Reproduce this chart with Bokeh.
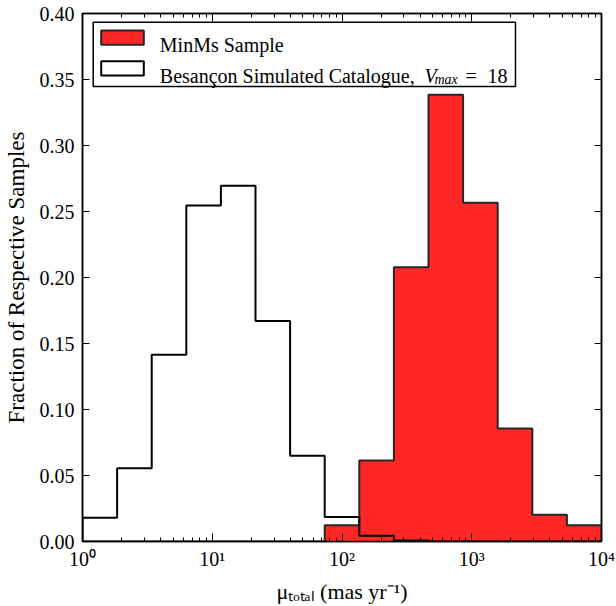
import numpy as np
from bokeh.plotting import figure
from bokeh.models import (LogAxis, LinearAxis, Label, BoxAnnotation, CustomJSTickFormatter,
                          FixedTicker, Range1d, NumeralTickFormatter)
from bokeh.embed import file_html
from bokeh.resources import INLINE

# ---- data ----
bin_edges = [1.0, 1.848, 3.415, 6.310, 11.659, 21.544, 39.811, 73.564, 135.936,
             251.189, 464.159, 857.696, 1584.893, 2928.645, 5411.695, 10000.0]
minms_frac = [0.0, 0.0, 0.0, 0.0, 0.0, 0.0, 0.0, 0.0123, 0.0613, 0.2078, 0.3385,
              0.2566, 0.0857, 0.0203, 0.0123]
besancon_frac = [0.0180, 0.0555, 0.1415, 0.2545, 0.2695, 0.1670, 0.0650, 0.0186,
                 0.0043, 0.0008, 0.0, 0.0, 0.0, 0.0, 0.0]
x_major_ticks = [1, 10, 100, 1000, 10000]
y_ticks = [0.0, 0.05, 0.10, 0.15, 0.20, 0.25, 0.30, 0.35, 0.40]

SERIF = "Liberation Serif"
RED = "#ff2626"
EDGE = "#262626"

p = figure(width=616, height=606, x_axis_type="log",
           x_range=Range1d(1, 1e4), y_range=Range1d(0, 0.4),
           output_backend="svg", toolbar_location=None,
           min_border_left=82, min_border_right=15, min_border_top=13, min_border_bottom=65,
           background_fill_color="white", border_fill_color="white")
p.xgrid.visible = False
p.ygrid.visible = False
p.outline_line_color = "black"
p.outline_line_width = 1.5

# ---- histograms ----
edges = np.array(bin_edges)
step_x = np.concatenate([[edges[0]], edges])
red_y = np.concatenate([[0], minms_frac, [0]])
blk_y = np.concatenate([[0], besancon_frac, [0]])
p.varea_step(x=step_x, y1=np.zeros(len(step_x)), y2=red_y, step_mode="after",
             fill_color=RED)
p.step(step_x, red_y, mode="after", line_color=EDGE, line_width=2)
p.step(step_x, blk_y, mode="after", line_color="black", line_width=2)

# ---- axes ----
minor = [m * d for d in [1, 10, 100, 1000] for m in range(2, 10)]
xticker = FixedTicker(ticks=x_major_ticks, minor_ticks=minor)
sup_fmt = CustomJSTickFormatter(code="""
const e = Math.round(Math.log10(tick));
const s = {'0':'\u2070','1':'\u00b9','2':'\u00b2','3':'\u00b3','4':'\u2074','-':'\u207b'};
return '10' + String(e).split('').map(c => s[c]).join('');
""")
yticker = FixedTicker(ticks=y_ticks)

def style(ax, labels):
    ax.axis_line_color = "black"
    ax.axis_line_width = 1.5
    ax.major_tick_out = 0
    ax.minor_tick_out = 0
    ax.major_tick_line_color = "black"
    ax.minor_tick_line_color = "black"
    ax.major_label_text_font = SERIF
    ax.major_label_text_color = "black"
    if labels:
        ax.major_label_text_font_size = "20px"
    else:
        ax.major_label_text_font_size = "1px"
        ax.major_label_text_alpha = 0.0
        ax.major_label_standoff = 0

xa = p.xaxis[0]
xa.ticker = xticker
xa.formatter = sup_fmt
style(xa, True)
xa.major_tick_in = 8
xa.minor_tick_in = 4
xa.major_label_standoff = 6
xa.axis_label = "\u03bc\u209c\u2092\u209c\u2090\u2097 (mas yr\u207b\u00b9)"
xa.axis_label_text_font = SERIF
xa.axis_label_text_font_size = "22px"
xa.axis_label_text_font_style = "normal"
xa.axis_label_text_color = "black"
xa.axis_label_standoff = 6

ya = p.yaxis[0]
ya.ticker = yticker
ya.formatter = NumeralTickFormatter(format="0.00")
style(ya, True)
ya.major_tick_in = 7
ya.minor_tick_in = 0
ya.major_label_standoff = 8
ya.axis_label = "Fraction of Respective Samples"
ya.axis_label_text_font = SERIF
ya.axis_label_text_font_size = "23px"
ya.axis_label_text_font_style = "normal"
ya.axis_label_text_color = "black"
ya.axis_label_standoff = 8

top = LogAxis(ticker=xticker)
style(top, False)
top.major_tick_in = 8
top.minor_tick_in = 4
p.add_layout(top, "above")

right = LinearAxis(ticker=yticker)
style(right, False)
right.major_tick_in = 7
right.minor_tick_in = 0
p.add_layout(right, "right")

# ---- frame-relative helpers (frame left=82, bottom=541 on the canvas) ----
FL, FB = 82, 541

def txt(x, y, t, size="20px", style_="normal", align="left"):
    p.add_layout(Label(x=x - FL, y=FB - y, x_units="screen", y_units="screen", text=t,
                       text_font=SERIF, text_font_size=size, text_font_style=style_,
                       text_color="black", text_baseline="alphabetic", text_align=align))

def box(l, t, r, b, fill, line, lw):
    p.add_layout(BoxAnnotation(left=l - FL, right=r - FL, top=FB - t, bottom=FB - b,
                               left_units="screen", right_units="screen",
                               top_units="screen", bottom_units="screen",
                               fill_color=fill, fill_alpha=1.0, line_color=line,
                               line_width=lw, line_alpha=1.0))

# ---- legend ----
box(92.7, 21.7, 515, 86, "white", "black", 1.5)
box(100.7, 30, 143.3, 44.3, RED, EDGE, 2)
box(100.7, 60.7, 143.3, 75, "white", "black", 2)
txt(159.3, 44.3, "MinMs Sample")
txt(159.3, 75, "Besan\u00e7on Simulated Catalogue,")
txt(424, 75, "V", style_="italic")
txt(434, 79, "max", size="14px", style_="italic")
txt(465, 75, "=")
txt(487, 75, "18")

open("out.html", "w").write(file_html(p, INLINE))
